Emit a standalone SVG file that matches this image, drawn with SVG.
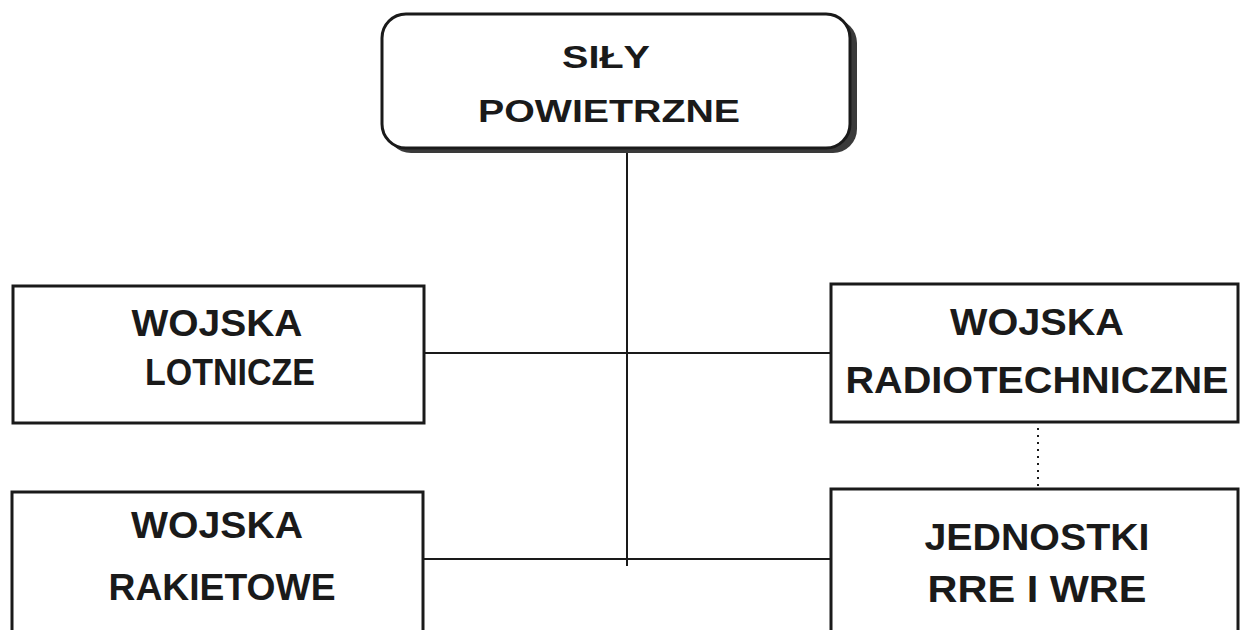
<svg xmlns="http://www.w3.org/2000/svg" width="1241" height="630" viewBox="0 0 1241 630">
<style>
.box{fill:#fff;stroke:#1a1a1a;stroke-width:3}
.shadow{fill:#3a3a3a}
.t{font-family:"Liberation Sans",Arial,sans-serif;font-weight:bold;fill:#1a1a1a;text-anchor:middle}
.big{font-size:37px}
.top{font-size:32px}
.conn{stroke:#1a1a1a;stroke-width:2;fill:none}
.dot{stroke:#1a1a1a;stroke-width:2;fill:none;stroke-dasharray:2 5}
</style>
<rect width="1241" height="630" fill="#fff"/>
<g id="connectors">
<line class="conn" x1="627" y1="150" x2="627" y2="566"/>
<line class="conn" x1="424" y1="353" x2="831" y2="353"/>
<line class="conn" x1="424" y1="559" x2="831" y2="559"/>
<line class="dot" x1="1038" y1="428" x2="1038" y2="486"/>
</g>
<g id="sily-powietrzne">
<rect class="shadow" x="387" y="19" width="470" height="134" rx="24"/>
<rect class="box" x="382" y="14" width="468" height="134" rx="24"/>
<text class="t top" x="606" y="68" textLength="88" lengthAdjust="spacingAndGlyphs">SIŁY</text>
<text class="t top" x="609" y="122" textLength="262" lengthAdjust="spacingAndGlyphs">POWIETRZNE</text>
</g>
<g id="wojska-lotnicze">
<rect class="box" x="13" y="286" width="411" height="137"/>
<text class="t big" x="217" y="336" textLength="171" lengthAdjust="spacingAndGlyphs">WOJSKA</text>
<text class="t big" x="230" y="385" textLength="170" lengthAdjust="spacingAndGlyphs">LOTNICZE</text>
</g>
<g id="wojska-rakietowe">
<rect class="box" x="12" y="492" width="411" height="150"/>
<text class="t big" x="217" y="538" textLength="172" lengthAdjust="spacingAndGlyphs">WOJSKA</text>
<text class="t big" x="222" y="600" textLength="227" lengthAdjust="spacingAndGlyphs">RAKIETOWE</text>
</g>
<g id="wojska-radiotechniczne">
<rect class="box" x="831" y="284" width="407" height="138"/>
<text class="t big" x="1037" y="335" textLength="174" lengthAdjust="spacingAndGlyphs">WOJSKA</text>
<text class="t big" x="1037" y="393" textLength="383" lengthAdjust="spacingAndGlyphs">RADIOTECHNICZNE</text>
</g>
<g id="jednostki-rre-wre">
<rect class="box" x="831" y="489" width="407" height="160"/>
<text class="t big" x="1037" y="550" textLength="225" lengthAdjust="spacingAndGlyphs">JEDNOSTKI</text>
<text class="t big" x="1037" y="602" textLength="219" lengthAdjust="spacingAndGlyphs">RRE I WRE</text>
</g>
</svg>
